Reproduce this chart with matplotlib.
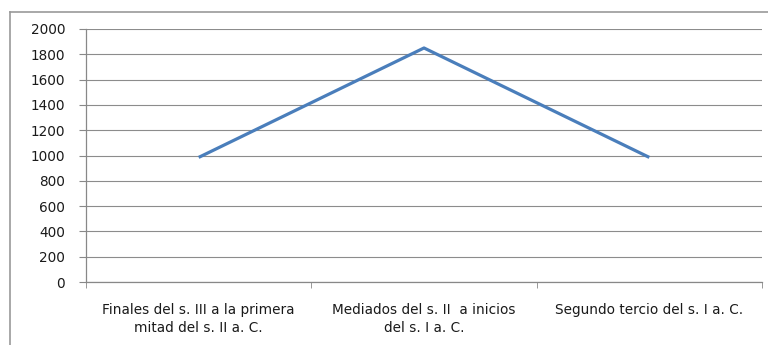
import matplotlib
matplotlib.use("Agg")
import matplotlib.pyplot as plt
from matplotlib.lines import Line2D

categories = ["Finales del s. III a la primera\nmitad del s. II a. C.",
              "Mediados del s. II  a inicios\ndel s. I a. C.",
              "Segundo tercio del s. I a. C."]
values = [985, 1850, 985]
yticks = [0, 200, 400, 600, 800, 1000, 1200, 1400, 1600, 1800, 2000]

W, H = 768, 345
plt.rcParams['font.family'] = ['DejaVu Sans']
fig = plt.figure(figsize=(W/100, H/100), dpi=100)

# outer chart border (top and left only visible)
fig.lines.append(Line2D([9.5/W, 9.5/W], [0, 1-12/H], transform=fig.transFigure,
                        color='#999999', linewidth=1.2))
fig.lines.append(Line2D([9.5/W, 1], [1-12/H, 1-12/H], transform=fig.transFigure,
                        color='#999999', linewidth=1.2))

left, right, top, bottom = 86, 762, 29, 282
ax = fig.add_axes([left/W, 1-bottom/H, (right-left)/W, (bottom-top)/H])

x = [0, 1, 2]
ax.plot(x, values, color='#4A7EBB', linewidth=2.3, solid_capstyle='butt')
ax.set_xlim(-0.5, 2.5)
ax.set_ylim(0, 2000)
ax.set_yticks(yticks)
ax.set_yticklabels([str(v) for v in yticks], fontsize=9.8, color='#1a1a1a')
ax.set_xticks(x)
ax.set_xticklabels(categories, fontsize=9.8, color='#1a1a1a', linespacing=1.35)
ax.set_xticks([-0.5, 0.5, 1.5, 2.5], minor=True)
ax.tick_params(axis='x', which='major', length=0, pad=15)
ax.tick_params(axis='x', which='minor', length=4, color='#888888')
ax.tick_params(axis='y', length=5, color='#888888', pad=10)
ax.grid(axis='y', color='#8c8c8c', linewidth=0.8)
ax.set_axisbelow(True)
for s in ['top', 'right']:
    ax.spines[s].set_visible(False)
for s in ['left', 'bottom']:
    ax.spines[s].set_color('#888888')
    ax.spines[s].set_linewidth(0.9)

fig.savefig("out.png", dpi=100)
